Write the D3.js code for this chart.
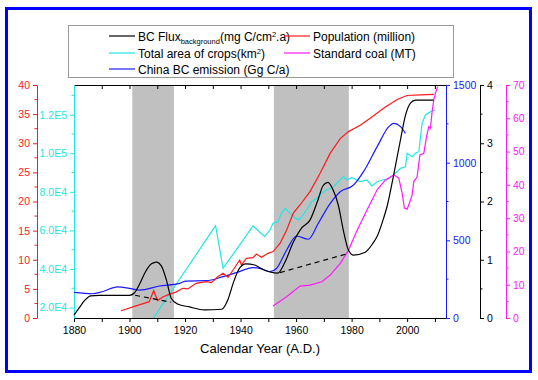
<!DOCTYPE html>
<html><head><meta charset="utf-8">
<script src="https://cdn.jsdelivr.net/npm/d3@7"></script>
<style>body{margin:0;background:#fff}svg{display:block;font-family:"Liberation Sans",Arial,sans-serif}</style>
</head><body><svg id="c" width="538" height="380"></svg>
<script>
// ---- data ----
const bcFlux = [[1880,0.05],[1881.8,0.17],[1884,0.31],[1886,0.38],[1889,0.39],[1900,0.39],[1901.7,0.43],[1903.5,0.57],[1905.7,0.79],[1907.9,0.93],[1909.7,0.96],[1911.5,0.89],[1913.3,0.65],[1915,0.34],[1917.3,0.24],[1921.6,0.19],[1927,0.14],[1933.2,0.15],[1935.4,0.31],[1937.5,0.62],[1939.7,0.86],[1941.9,0.93],[1945.1,0.91],[1947.7,0.84],[1950.6,0.79],[1953.4,0.77],[1956,0.96],[1958.9,1.29],[1962.1,1.55],[1965,1.68],[1967.9,2.03],[1969.7,2.27],[1971.5,2.33],[1973.3,2.20],[1975.2,1.94],[1977,1.51],[1978.8,1.17],[1980.6,1.08],[1984.9,1.13],[1987.5,1.27],[1989.3,1.41],[1991.1,1.65],[1992.9,1.94],[1995,2.42],[1997.6,3.06],[1999.4,3.48],[2001.2,3.69],[2003,3.74],[2009.5,3.74]];
const bcDash1 = [[1902,0.39],[1915,0.27]];
const bcDash2 = [[1954.2,0.78],[1978.9,1.11]];
const population = [[1896.9,1.25],[1907.1,2.8],[1908.7,4.69],[1910.1,3.0],[1912,3.6],[1914.4,4.1],[1916.5,4.4],[1919.2,5.10],[1921,5.0],[1924,5.96],[1927.6,6.23],[1929.5,6.06],[1931.8,7.09],[1933.7,7.67],[1935.5,6.99],[1937.3,8.24],[1939.7,9.96],[1940.3,9.10],[1942.1,10.25],[1944.5,10.35],[1945.7,10.99],[1947.5,10.42],[1949.9,11.1],[1951.7,11.4],[1954.2,12.8],[1956.6,15.1],[1959,18.0],[1961.4,19.4],[1965,21.7],[1968.6,24.8],[1972.3,28.3],[1975.9,30.8],[1978.9,32.0],[1983.1,33.1],[1986.7,34.3],[1991.5,36.0],[1996.4,37.5],[2000,38.2],[2004.8,38.3],[2009.6,38.4]];
const cropArea = [[1908.6,14600],[1929.8,59860],[1931,62450],[1933.7,40370],[1944.5,62300],[1948.7,56750],[1950.6,60220],[1951.7,63700],[1953.5,64530],[1954.7,68880],[1956,71470],[1957.2,69710],[1959,67120],[1960.8,65410],[1962,67120],[1963.8,70590],[1965.6,74900],[1967.4,76660],[1969.2,79250],[1971,80960],[1972.9,81840],[1974.7,84440],[1977.1,87860],[1978.3,86150],[1980.1,87340],[1981.9,86150],[1983.1,85270],[1985.5,86150],[1987.3,83040],[1989.2,85270],[1991,86150],[1992.8,86510],[1995.2,88740],[1997.6,92210],[1999.4,93040],[2000,99990],[2001.8,98230],[2003,99990],[2004.2,100820],[2005.4,115540],[2006.6,119850],[2008.4,121560],[2010.2,122440]];
const coal = [[1951.7,3.6],[1956.6,6.4],[1961.4,9.6],[1965,9.9],[1969.3,10.9],[1972.3,12.9],[1975.9,16.4],[1978.9,20.4],[1982,26.4],[1985.5,32.4],[1989.2,38.5],[1992.2,41.5],[1995.2,43.0],[1997,42.0],[1998.2,37.5],[1999,33.0],[2000,32.7],[2001,34.9],[2001.8,37.0],[2002.4,41.0],[2003.6,42.4],[2004.6,49.0],[2006,49.5],[2007,54.5],[2007.8,57.5],[2008.4,57.0],[2009,62.0],[2009.6,65.5],[2010.2,67.5],[2011,69.5]];
const bcEmission = [[1880,165],[1886.6,156],[1890.1,169],[1895.7,201],[1900,191],[1903.6,180],[1910.8,206],[1918,223],[1920.4,238],[1927.6,240],[1933.7,266],[1938.5,292],[1944.5,324],[1947,320],[1950.6,298],[1953,320],[1956.6,438],[1960.2,528],[1964.4,507],[1968,610],[1972.3,738],[1975.9,813],[1980.7,856],[1984.3,942],[1989.2,1103],[1993.4,1232],[1995.2,1253],[1997.6,1232],[1999.4,1189]];
const shaded = [[1901,1916],[1952,1979]];
const xTicks = [1880,1900,1920,1940,1960,1980,2000];
const popTicks = [0,5,10,15,20,25,30,35,40];
const cropTicks = [20000,40000,60000,80000,100000,120000];
const cropTickLabels = ["2.0E4","4.0E4","6.0E4","8.0E4","1.0E5","1.2E5"];
const emisTicks = [0,500,1000,1500];
const fluxTicks = [0,1,2,3,4];
const coalTicks = [0,10,20,30,40,50,60,70];

// ---- layout ----
const svg = d3.select("#c");
const L=74, R=446, T=85, B=318;
const x = d3.scaleLinear([1880,2014],[L,R]);
const yPop = d3.scaleLinear([0,40],[B,T]);
const yCrop = d3.scaleLinear([14600,135400],[B,T]);
const yEm = d3.scaleLinear([0,1500],[B,T]);
const yFlux = d3.scaleLinear([0,4],[B,T]);
const yCoal = d3.scaleLinear([0,70],[B,T]);
const C = {red:"#ff1a1a", cyan:"#22e5e5", blue:"#1a1aff", mag:"#ff1aff", black:"#000"};
const fmt = d3.format("d");

svg.append("rect").attr("x",6.5).attr("y",8.5).attr("width",524).attr("height",363)
  .attr("fill","#fff").attr("stroke","#0000ff").attr("stroke-width",3);

// shaded
svg.append("g").selectAll("rect").data(shaded).join("rect")
  .attr("x",d=>x(d[0])).attr("width",d=>x(d[1])-x(d[0]))
  .attr("y",T).attr("height",B-T).attr("fill","#c0c0c0");

function styleAxis(g,color,fs){
  g.selectAll("path,line").attr("stroke",color);
  g.selectAll("text").attr("fill",color).attr("font-size",fs).attr("font-family","Liberation Sans, Arial, sans-serif");
}
// bottom
const gb = svg.append("g").attr("transform",`translate(0,${B})`)
  .call(d3.axisBottom(x).tickValues(d3.range(1880,2015,10)).tickSize(4).tickSizeOuter(0)
    .tickFormat(d=>xTicks.includes(d)?fmt(d):""));
styleAxis(gb,"#000",10.5); gb.selectAll("text").attr("dy","0.9em");
// top
const gt = svg.append("g").attr("transform",`translate(0,${T})`)
  .call(d3.axisBottom(x).tickValues(d3.range(1890,2015,10)).tickSize(4).tickSizeOuter(0).tickFormat(""));
styleAxis(gt,"#000",10);
function minor(g,scale,vals,side,len){
  g.selectAll(".mn").data(vals).join("line").attr("class","mn")
   .attr("x1",0).attr("x2",side*len).attr("y1",d=>scale(d)).attr("y2",d=>scale(d));
}
const gp = svg.append("g").attr("transform","translate(37,0)")
  .call(d3.axisLeft(yPop).tickValues(popTicks).tickSize(4).tickSizeOuter(0).tickPadding(3).tickFormat(fmt));
minor(gp,yPop,d3.range(2.5,40,5),-1,2.5); styleAxis(gp,C.red,10.5);
const gc = svg.append("g").attr("transform",`translate(${L},0)`)
  .call(d3.axisLeft(yCrop).tickValues(cropTicks).tickSize(4).tickSizeOuter(0).tickPadding(3)
    .tickFormat((d,i)=>cropTickLabels[i]));
minor(gc,yCrop,d3.range(30000,135000,20000),-1,2.5); styleAxis(gc,C.cyan,10.5);
const ge = svg.append("g").attr("transform",`translate(${R},0)`)
  .call(d3.axisRight(yEm).tickValues(emisTicks).tickSize(4).tickSizeOuter(0).tickPadding(3).tickFormat(fmt));
minor(ge,yEm,d3.range(250,1500,500),1,2.5); styleAxis(ge,C.blue,10.5);
const gf = svg.append("g").attr("transform","translate(480,0)")
  .call(d3.axisRight(yFlux).tickValues(fluxTicks).tickSize(4).tickSizeOuter(0).tickPadding(3).tickFormat(fmt));
minor(gf,yFlux,d3.range(0.5,4,1),1,2.5); styleAxis(gf,C.black,10.5);
const gm = svg.append("g").attr("transform","translate(506,0)")
  .call(d3.axisRight(yCoal).tickValues(coalTicks).tickSize(4).tickSizeOuter(0).tickPadding(3).tickFormat(fmt));
minor(gm,yCoal,d3.range(5,70,10),1,2.5); styleAxis(gm,C.mag,10.5);

function line(data,ys,color,curve,dash){
  svg.append("path").datum(data).attr("fill","none").attr("stroke",color).attr("stroke-width",1.2)
    .attr("stroke-dasharray",dash||null)
    .attr("d",d3.line().x(d=>x(d[0])).y(d=>ys(d[1])).curve(curve||d3.curveLinear));
}
line(cropArea,yCrop,C.cyan);
line(bcEmission,yEm,C.blue,d3.curveMonotoneX);
line(population,yPop,C.red);
line(coal,yCoal,C.mag);
line(bcFlux,yFlux,C.black,d3.curveMonotoneX);
line(bcDash1,yFlux,C.black,null,"5,4");
line(bcDash2,yFlux,C.black,null,"5,4");

svg.append("text").attr("x",260).attr("y",353).attr("text-anchor","middle")
  .attr("font-size",13).text("Calendar Year (A.D.)");

const lg = svg.append("g");
lg.append("rect").attr("x",68.5).attr("y",25.5).attr("width",385).attr("height",52)
  .attr("fill","#fff").attr("stroke","#999").attr("stroke-width",1);
const legendItems = [
  {c:C.black, lx:109, y:36, key:"flux"},
  {c:C.red, lx:284, y:36, txt:"Population (million)"},
  {c:C.cyan, lx:109, y:53, key:"crop"},
  {c:C.mag, lx:284, y:53, txt:"Standard coal (MT)"},
  {c:C.blue, lx:109, y:69, txt:"China BC emission (Gg C/a)"}
];
legendItems.forEach(it=>{
  lg.append("line").attr("x1",it.lx).attr("x2",it.lx+26).attr("y1",it.y).attr("y2",it.y)
    .attr("stroke",it.c).attr("stroke-width",1.2);
  const t = lg.append("text").attr("x",it.lx+29).attr("y",it.y+4.5).attr("font-size",12);
  if(it.key==="flux"){
    t.append("tspan").text("BC Flux");
    t.append("tspan").attr("font-size",7.5).attr("dy",3).text("background");
    t.append("tspan").attr("dy",-3).text("(mg C/cm");
    t.append("tspan").attr("font-size",7.5).attr("dy",-4).text("2");
    t.append("tspan").attr("dy",4).text(".a)");
  } else if(it.key==="crop"){
    t.append("tspan").text("Total area of crops(km");
    t.append("tspan").attr("font-size",7.5).attr("dy",-4).text("2");
    t.append("tspan").attr("dy",4).text(")");
  } else t.text(it.txt);
});
</script></body></html>
